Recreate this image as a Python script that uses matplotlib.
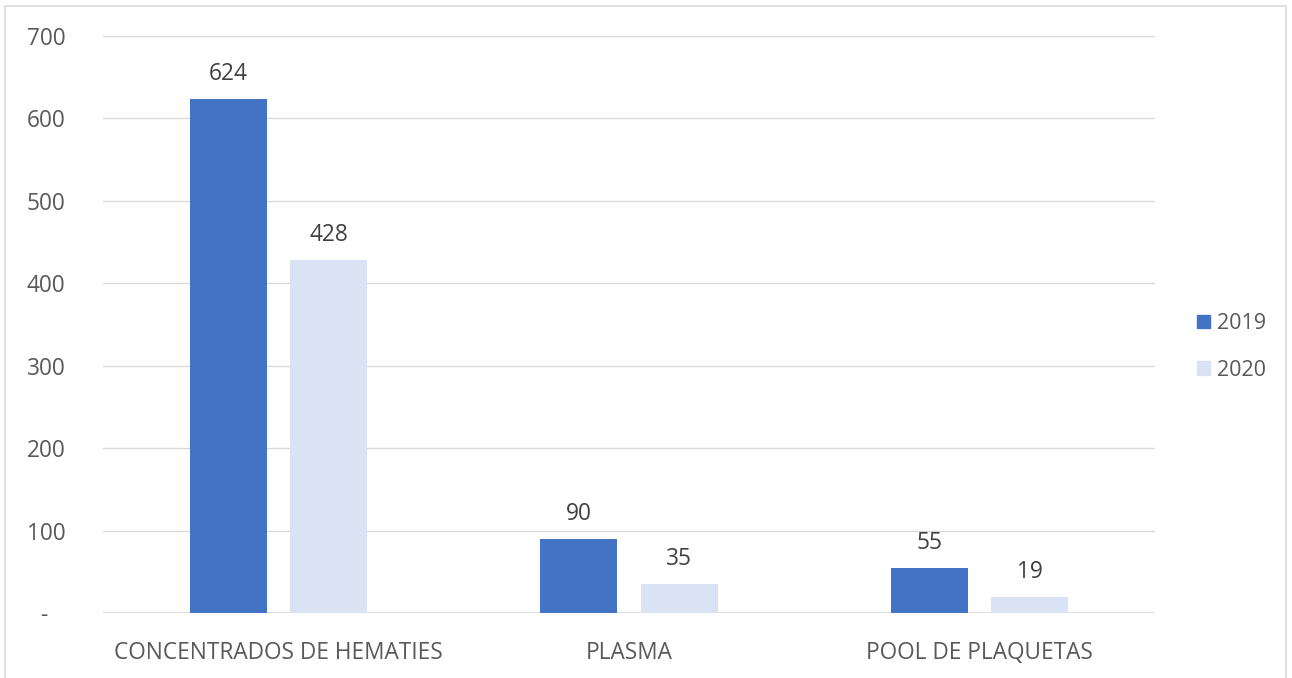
import numpy as np
import matplotlib.pyplot as plt
import matplotlib.transforms as mtrans
from matplotlib.patches import Rectangle, Patch

categories = ['CONCENTRADOS DE HEMATIES', 'PLASMA', 'POOL DE PLAQUETAS']
years = ['2019', '2020']
vals_2019 = [624, 90, 55]
vals_2020 = [428, 35, 19]
yticks = [0, 100, 200, 300, 400, 500, 600, 700]
ytick_labels = ['-', '100', '200', '300', '400', '500', '600', '700']

c19 = '#4472C4'
c20 = '#DAE3F3'
txt = '#595959'
fs = 16.3

plt.rcParams['font.family'] = ['Open Sans', 'DejaVu Sans']

fig = plt.figure(figsize=(12.92, 6.78), dpi=100)
ax = fig.add_axes([103/1292, 65/678, 1052/1292, 577/678])

x = np.arange(len(categories))
w = 0.22
off = 0.143
b1 = ax.bar(x - off, vals_2019, w, color=c19, zorder=3)
b2 = ax.bar(x + off, vals_2020, w, color=c20, zorder=3)

for bars, vals in ((b1, vals_2019), (b2, vals_2020)):
    for b, v in zip(bars, vals):
        ax.annotate(str(v), (b.get_x() + b.get_width()/2, v), xytext=(0, 18),
                    textcoords='offset points', ha='center', va='center',
                    fontsize=fs, color='#404040')

ax.set_xlim(-0.5, 2.5)
ax.set_ylim(0, 700)
ax.set_yticks(yticks)
ax.set_yticklabels(ytick_labels)
ax.set_xticks(x)
ax.set_xticklabels(categories)
ax.tick_params(axis='y', length=0, pad=27, labelsize=fs, labelcolor=txt)
ax.tick_params(axis='x', length=0, pad=20, labelsize=fs, labelcolor=txt)
ax.grid(axis='y', color='#D9D9D9', linewidth=1, zorder=0)
for s in ax.spines.values():
    s.set_visible(False)
ax.axhline(0, color='#D9D9D9', linewidth=1.2, zorder=2)

# the "-" for zero sits further left, like an accounting format
lab0 = ax.get_yticklabels()[0]
lab0.set_transform(lab0.get_transform() + mtrans.ScaledTranslation(-0.18, 0, fig.dpi_scale_trans))

handles = [Patch(color=c19), Patch(color=c20)]
leg = fig.legend(handles, years, loc='center left', bbox_to_anchor=(1178/1292, 1 - 347/678),
                 frameon=False, fontsize=15.5, handlelength=0.6, handleheight=0.6,
                 handletextpad=0.3, labelspacing=1.2, labelcolor=txt)

fig.patches.append(Rectangle((5/1292, -0.1), 1281/1292, 1.1 - 6/678, transform=fig.transFigure,
                             fill=False, edgecolor='#D9D9D9', linewidth=1.2))

fig.savefig('out.png', dpi=100)
